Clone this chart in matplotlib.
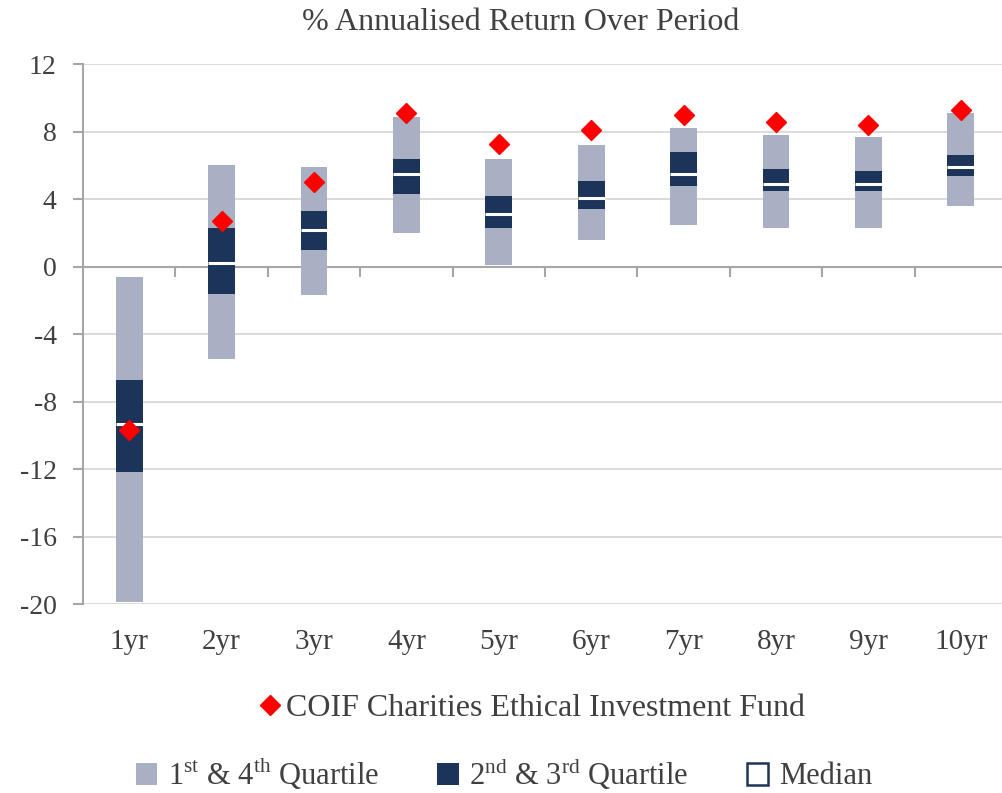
import matplotlib
matplotlib.use('Agg')
import matplotlib.pyplot as plt
import matplotlib.patches as mpatches
from matplotlib.lines import Line2D
import numpy as np

# 數據
periods = ['1yr', '2yr', '3yr', '4yr', '5yr', '6yr', '7yr', '8yr', '9yr', '10yr']
q_min = [-19.9, -5.5, -1.7, 2.0, 0.1, 1.6, 2.5, 2.3, 2.3, 3.6]
q_low = [-12.2, -1.6, 1.0, 4.3, 2.3, 3.4, 4.8, 4.5, 4.5, 5.4]
median = [-9.3, 0.2, 2.2, 5.5, 3.1, 4.1, 5.5, 4.9, 4.9, 5.9]
q_high = [-6.7, 2.3, 3.3, 6.4, 4.2, 5.1, 6.8, 5.8, 5.7, 6.6]
q_max = [-0.6, 6.0, 5.9, 8.9, 6.4, 7.2, 8.2, 7.8, 7.7, 9.1]
fund = [-9.7, 2.7, 5.0, 9.1, 7.3, 8.1, 9.0, 8.6, 8.4, 9.3]

grey = '#aab0c3'
navy = '#1c3459'
axis_grey = '#a6a6a6'
text_col = '#404040'

plt.rcParams['font.family'] = ['Liberation Serif', 'DejaVu Serif']
plt.rcParams['mathtext.fontset'] = 'custom'
plt.rcParams['mathtext.rm'] = 'Liberation Serif'
plt.rcParams['axes.unicode_minus'] = False

fig = plt.figure(figsize=(10.02, 7.93), dpi=100)
ax = fig.add_axes([83 / 1002, 1 - 604 / 793, 924 / 1002, (604 - 64.3) / 793])

x = np.arange(len(periods))
w = 0.29
lo = np.array(q_min)
hi = np.array(q_max)
ax.bar(x, hi - lo, bottom=lo, width=w, color=grey, zorder=2)
ax.bar(x, np.array(q_high) - np.array(q_low), bottom=q_low, width=w, color=navy, zorder=3)
ax.hlines(median, x - w / 2, x + w / 2, color='white', lw=2.2, zorder=4)
ax.plot(x, fund, ls='none', marker='D', ms=10, color='red', zorder=5)

ax.set_xlim(-0.5, len(periods) - 0.5)
ax.set_ylim(-20, 12)
ax.set_yticks(np.arange(-20, 13, 4))
ax.yaxis.grid(True, color='#d4d4d4', lw=1.2, zorder=0)
ax.set_axisbelow(True)

# x 軸在 0 的位置
ax.axhline(0, color=axis_grey, lw=1.5, zorder=1)
bounds = np.arange(0.5, len(periods) - 0.5, 1)
ax.plot(bounds, np.zeros_like(bounds), ls='none', marker=3, ms=7, mew=1.5,
        color=axis_grey, zorder=1, clip_on=False)

for s in ['top', 'right', 'bottom']:
    ax.spines[s].set_visible(False)
ax.spines['left'].set_color(axis_grey)
ax.spines['left'].set_linewidth(1.5)

ax.set_xticks(x)
ax.set_xticklabels(periods)
ax.tick_params(axis='x', length=0, pad=18, labelsize=21, labelcolor=text_col)
ax.tick_params(axis='y', length=7, width=1.5, color=axis_grey, pad=12,
               labelsize=20, labelcolor=text_col)

fig.text(0.52, 1 - 22 / 793, '% Annualised Return Over Period', ha='center', va='center',
         fontsize=23, color=text_col)

# 圖例
h1 = [Line2D([], [], marker='D', ls='none', color='red', ms=10)]
fig.legend(h1, ['COIF Charities Ethical Investment Fund'], loc='center',
           bbox_to_anchor=(0.53, 1 - 708 / 793), frameon=False, fontsize=23,
           handlelength=0.8, handletextpad=0.1, labelcolor=text_col)
h2 = [mpatches.Patch(facecolor=grey),
      mpatches.Patch(facecolor=navy),
      mpatches.Patch(facecolor='white', edgecolor=navy, lw=1.8)]
labels2 = [r'1$^{\mathrm{st}}$ & 4$^{\mathrm{th}}$ Quartile',
           r'2$^{\mathrm{nd}}$ & 3$^{\mathrm{rd}}$ Quartile',
           'Median']
fig.legend(h2, labels2, loc='center', ncol=3, bbox_to_anchor=(0.503, 1 - 773 / 793),
           frameon=False, fontsize=22, handlelength=0.7, handleheight=0.7,
           handletextpad=0.35, columnspacing=1.9, labelcolor=text_col)

plt.savefig('out.png', dpi=100)
